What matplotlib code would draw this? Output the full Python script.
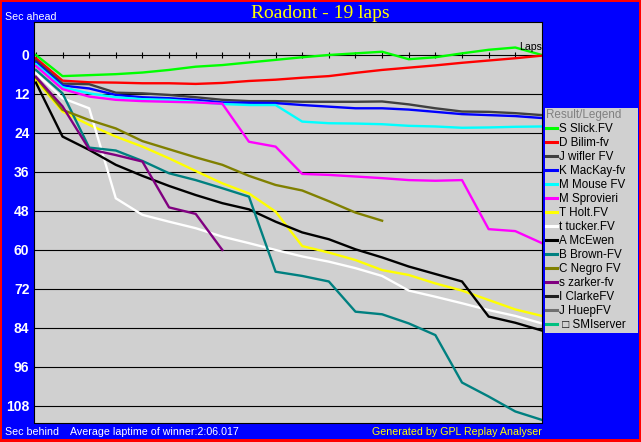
import matplotlib
matplotlib.use('Agg')
import matplotlib.pyplot as plt
from matplotlib.lines import Line2D
from matplotlib.patches import Rectangle

# gap to the winner's average lap pace, seconds (positive = behind)
laps = list(range(20))

slick = [0, 6.5, 6.2, 5.9, 5.4, 4.6, 3.6, 3.1, 2.3, 1.5, 0.7, 0.0, -0.5, -1.0, 1.3, 0.7, -0.5, -1.6, -2.3, 0.0]
bilim = [1.0, 7.9, 8.4, 8.5, 8.7, 8.7, 8.9, 8.6, 8.0, 7.6, 7.0, 6.5, 5.5, 4.6, 3.9, 3.2, 2.4, 1.7, 1.0, 0.2]
wifler = [1.7, 8.8, 9.0, 11.6, 11.8, 12.3, 13.0, 13.8, 14.2, 14.2, 14.4, 14.4, 14.4, 14.3, 15.2, 16.4, 17.4, 17.5, 17.9, 18.5]
mackay = [2.3, 9.4, 10.3, 12.3, 13.0, 13.3, 13.8, 14.6, 14.7, 14.8, 15.4, 15.9, 16.4, 16.4, 16.8, 17.5, 18.2, 18.5, 18.8, 19.4]
mouse = [2.8, 9.9, 11.8, 13.0, 13.6, 13.8, 14.4, 15.1, 15.4, 15.4, 20.5, 21.0, 21.1, 21.3, 21.8, 22.0, 22.4, 22.3, 22.1, 22.0]
sprovieri = [3.4, 10.5, 12.8, 13.8, 14.2, 14.4, 14.6, 15.0, 26.7, 28.2, 36.6, 36.9, 37.4, 37.9, 38.5, 38.7, 38.5, 53.6, 54.2, 57.9]
holt = [7.7, 17.4, 21.5, 25.1, 28.2, 31.8, 35.7, 39.5, 42.6, 48.2, 58.8, 60.8, 63.1, 66.2, 67.7, 70.3, 72.5, 75.4, 78.3, 80.3]
tucker = [5.6, 13.3, 16.4, 44.1, 49.2, 51.3, 53.3, 55.9, 57.9, 60.0, 62.0, 63.6, 65.6, 68.0, 72.5, 74.4, 76.4, 78.5, 80.3, 82.6]
mcewen = [8.5, 25.1, 29.2, 33.8, 37.2, 40.3, 43.1, 45.6, 47.5, 51.3, 54.6, 56.7, 59.8, 62.3, 65.1, 67.4, 69.7, 80.5, 82.4, 84.8]
brown = [4.6, 11.8, 28.5, 29.4, 32.6, 36.4, 38.5, 41.0, 43.6, 66.7, 68.0, 69.7, 79.0, 79.8, 82.6, 86.2, 100.8, 105.1, 109.7, 112.3]
negro = [6.9, 16.9, 20.0, 22.6, 26.5, 29.0, 31.5, 33.8, 37.2, 40.0, 41.7, 45.0, 48.5, 51.0]
zarker = [6.7, 15.8, 29.0, 30.8, 32.8, 46.9, 48.9, 60.0]

drivers = ['S Slick.FV', 'D Bilim-fv', 'J wifler FV', 'K MacKay-fv', 'M Mouse FV',
           'M Sprovieri', 'T Holt.FV', 't tucker.FV', 'A McEwen', 'B Brown-FV',
           'C Negro FV', 's zarker-fv']
series = [slick, bilim, wifler, mackay, mouse, sprovieri, holt, tucker, mcewen,
          brown, negro, zarker]
colors = ['#00FF00', '#FF0000', '#404040', '#0000FF', '#00FFFF', '#FF00FF',
          '#FFFF00', '#FFFFFF', '#000000', '#008080', '#808000', '#800080']
# retired drivers: only in the legend
extra_drivers = ['I ClarkeFV', 'J HuepFV', ' \u25a1 SMIserver']
extra_colors = ['#202020', '#707070', '#00C080']

yticks = list(range(0, 109, 12))

W, H = 641, 442
fig = plt.figure(figsize=(W / 100, H / 100), dpi=100)
fig.patch.set_facecolor('#FF0000')
fig.patches.append(Rectangle((2 / W, 3.5 / H), (W - 4.5) / W, (H - 5.5) / H,
                             transform=fig.transFigure, facecolor='#0000FF',
                             edgecolor='none', zorder=-1))

ax = fig.add_axes([34.3 / W, 19.5 / H, 507.6 / W, 400.2 / H])
ax.set_facecolor('#D0D0D0')

handles = []
for name, vals, col in zip(drivers, series, colors):
    ln, = ax.plot(laps[:len(vals)], vals, color=col, lw=1.7, label=name)
    handles.append(ln)
for name, col in zip(extra_drivers, extra_colors):
    handles.append(Line2D([], [], color=col, lw=1.7, label=name))

# little lap marks on the zero line
ax.plot(laps[:-1], [0] * (len(laps) - 1), ls='none', marker='|', ms=3.8,
        mew=0.8, color='black', zorder=1.5)

ax.set_xlim(-0.06, 19)
ax.set_ylim(113.1, -10.06)
ax.set_xticks([])
ax.set_yticks(yticks)
ax.set_yticklabels([str(v) for v in yticks], family='Liberation Sans',
                   fontweight='bold', fontsize=10)
ax.tick_params(axis='y', length=0, pad=3.5, labelcolor='white')
ax.yaxis.grid(True, color='black', lw=0.8)
for sp in ax.spines.values():
    sp.set_linewidth(0.8)
    sp.set_color('black')
ax.text(19, -1.4, 'Laps', ha='right', va='baseline', fontsize=7.6,
        family='Liberation Sans', color='black')

# legend panel
lax = fig.add_axes([545 / W, (H - 333) / H, 92.5 / W, 225 / H])
lax.set_facecolor('#D0D0D0')
lax.set_xticks([])
lax.set_yticks([])
for sp in lax.spines.values():
    sp.set_visible(False)
leg = lax.legend(handles=handles, loc='upper left', bbox_to_anchor=(0, 1),
                 frameon=False, title='Result/Legend', alignment='left',
                 prop={'family': 'Liberation Sans', 'size': 8.4},
                 title_fontproperties={'family': 'Liberation Sans', 'size': 8.4},
                 handlelength=0.9, handletextpad=0.2, labelspacing=0.17,
                 borderpad=0.1, borderaxespad=0)
leg.get_title().set_color('#808080')
for h in leg.legend_handles:
    h.set_linewidth(2.2)

fig.text(320 / W, (H - 18.3) / H, 'Roadont - 19 laps', ha='center', va='baseline',
         color='#FFFF00', fontsize=14, family='Liberation Serif')
fig.text(5 / W, (H - 20) / H, 'Sec ahead', ha='left', va='baseline',
         color='white', fontsize=7.7, family='Liberation Sans')
fig.text(5 / W, 7 / H, 'Sec behind', ha='left', va='baseline',
         color='white', fontsize=7.7, family='Liberation Sans')
fig.text(70 / W, 7 / H, 'Average laptime of winner:2:06.017', ha='left', va='baseline',
         color='white', fontsize=7.7, family='Liberation Sans')
fig.text(541.7 / W, 7 / H, 'Generated by GPL Replay Analyser', ha='right', va='baseline',
         color='#FFFF00', fontsize=7.7, family='Liberation Sans')

fig.savefig('out.png', dpi=100, facecolor=fig.get_facecolor())
